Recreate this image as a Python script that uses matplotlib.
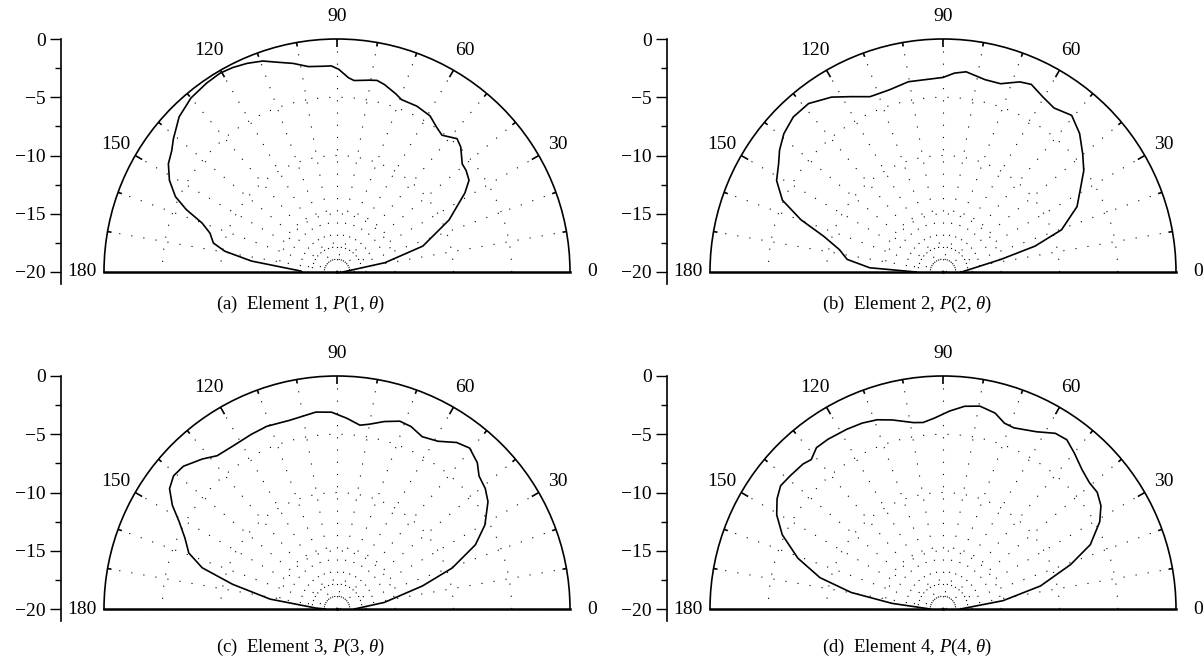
import numpy as np
import matplotlib
matplotlib.use('Agg')
import matplotlib.pyplot as plt
from matplotlib.ticker import FixedLocator, MultipleLocator

plt.rcParams['font.family'] = ['Liberation Serif', 'DejaVu Serif']
plt.rcParams['mathtext.fontset'] = 'custom'
plt.rcParams['mathtext.rm'] = 'Liberation Serif'
plt.rcParams['mathtext.it'] = 'Liberation Serif:italic'

# ---------------- data (angle in degrees, normalized gain in dB) ----------------
theta1 = [0, 11, 16.8, 24.9, 31.7, 34.8, 38.2, 40.8, 45.3, 48.0, 52.5, 55.6, 59.2, 64.3,
          69.5, 71.7, 75.8, 78.2, 80.4, 84.9, 86.6, 89.5, 91.6, 93.7, 97.9, 101.9, 105.7,
          109.4, 113.3, 117, 120.5, 124.7, 130, 135.5, 140.9, 143.7, 147.3, 151.3, 155.0,
          157.5, 160.1, 163.0, 166.8, 169.5, 172.7, 178.5, 180]
gain1 = [-19.5, -15.8, -12.3, -9.4, -7.1, -6.2, -5.9, -5.8, -4.9, -4.6, -5.2, -4.9, -4.4, -4.2,
         -4.2, -3.9, -3.4, -3.2, -3.3, -3.5, -3.3, -2.6, -2.3, -2.3, -2.2, -1.7, -1.3,
         -0.8, -0.5, -0.3, -0.2, -0.3, -0.5, -1.0, -1.9, -2.4, -2.8, -3.6, -4.7,
         -6.0, -7.7, -8.6, -9.1, -10.2, -12.6, -16.9, -17.0]

theta2 = [0, 12.3, 15.7, 19.6, 26.0, 31.7, 35.8, 40.2, 45.4, 50.6, 55.9, 60.3, 64.8, 68.0,
          73.0, 77.7, 83.4, 86.7, 90, 100.3, 106.4, 112.6, 117.7, 122.5, 128.6, 134.0,
          139.0, 143.3, 146.6, 151.2, 155.9, 159.8, 163.3, 167.8, 172.5, 176.7, 180]
gain2 = [-18.4, -14.9, -11.8, -9.2, -7.2, -6.1, -5.1, -4.3, -3.3, -2.6, -3.0, -2.7, -2.2, -2.4,
         -3.1, -3.1, -2.7, -2.9, -3.3, -3.4, -3.7, -3.7, -3.0, -2.2, -1.5, -1.5,
         -1.9, -2.5, -3.1, -3.7, -4.9, -7.0, -9.3, -10.9, -11.7, -13.7, -17.7]

theta3 = [0, 7.9, 15.1, 19.6, 24.9, 29.6, 35.4, 39.1, 43.1, 46.2, 50.5, 54.3, 59.0, 63.7,
          67.9, 71.5, 75.8, 80.1, 82.9, 87.1, 91.6, 96.1, 104.1, 111.0, 116.1, 122.7,
          128.0, 131.9, 137.1, 140.8, 144.3, 147.8, 151.0, 155.0, 159.3, 163.0, 166.7,
          171.6, 177.5, 180]
gain3 = [-18.5, -15.9, -12.4, -9.5, -6.9, -5.4, -4.1, -3.6, -3.3, -2.6, -2.1, -2.4, -3.2, -3.5,
         -3.1, -3.0, -3.4, -3.9, -4.1, -3.6, -3.1, -3.0, -3.3, -3.2, -3.3, -3.4,
         -3.3, -2.7, -2.0, -1.9, -2.3, -3.3, -4.5, -5.6, -6.4, -7.9, -10.8,
         -14.2, -18.2, -19.0]

theta4 = [0, 7.9, 13.3, 19.2, 23.6, 29.1, 33.2, 37.1, 40.8, 45.1, 49.9, 53.8, 57.4, 62.2,
          68.6, 71.7, 75.1, 79.7, 83.9, 88.1, 92.6, 96.1, 99.0, 105.0, 109.2, 113.5,
          118.2, 124.1, 128.1, 131.4, 134.0, 138.9, 142.8, 146.4, 150.5, 155.2, 160.7,
          165.7, 169.8, 173.7, 180]
gain4 = [-18.5, -14.8, -11.4, -8.4, -6.2, -4.6, -3.8, -3.4, -3.4, -3.1, -2.5, -2.0, -2.1, -2.8,
         -3.3, -3.2, -2.6, -2.3, -2.5, -3.0, -3.6, -3.9, -3.8, -3.2, -2.8, -2.6,
         -2.5, -2.4, -2.4, -2.9, -2.7, -2.6, -2.5, -2.9, -3.6, -4.8, -6.8,
         -9.1, -12.0, -15.6, -18.9]

captions = [r'(a)  Element 1, $P$(1, $\theta$)', r'(b)  Element 2, $P$(2, $\theta$)',
            r'(c)  Element 3, $P$(3, $\theta$)', r'(d)  Element 4, $P$(4, $\theta$)']
angle_ticks = [0, 30, 60, 90, 120, 150, 180]
angle_labels = ['0', '30', '60', '90', '120', '150', '180']
angle_minor = [10, 20, 40, 50, 70, 80, 100, 110, 130, 140, 160, 170]
radial_ticks = [0, -5, -10, -15, -20]
ring_levels = [-19.7, -18.5, -17.5, -15, -10, -5]

# ---------------- layout ----------------
W, H = 1204, 667
fig = plt.figure(figsize=(W / 100, H / 100), dpi=100)
R = 233
panels = [(337, 272, 304), (943, 272, 304), (337, 609, 647), (943, 609, 647)]
series = [(theta1, gain1), (theta2, gain2), (theta3, gain3), (theta4, gain4)]
dots = (0, (1, 10))
major_len = 8 / R * 20   # tick lengths on the arc, in dB (8 px / 4 px)
minor_len = 4 / R * 20

for (cx, by, capy), (th, g), cap in zip(panels, series, captions):
    # square box of side 2R centred on the half-disk; the wedge fills its width
    top = by - R / 2 - R
    ax = fig.add_axes([(cx - R) / W, (H - top - 2 * R) / H, 2 * R / W, 2 * R / H],
                      projection='polar')
    ax.set_thetamin(0)
    ax.set_thetamax(180)
    ax.set_rlim(-20, 0)
    ax.plot(np.deg2rad(th), g, color='black', lw=1.2, zorder=5)

    ax.set_xticks(np.deg2rad(angle_ticks))
    ax.set_xticklabels(angle_labels)
    ax.xaxis.set_minor_locator(FixedLocator(np.deg2rad(angle_minor)))
    ax.tick_params(axis='x', which='major', direction='in', length=8, width=1.2,
                   pad=9, labelsize=14)
    ax.tick_params(axis='x', which='minor', direction='in', length=4, width=1.2)
    ax.set_yticks(ring_levels)
    ax.set_yticklabels([])
    ax.tick_params(axis='y', length=0)
    ax.xaxis.grid(True, which='both', color='black', lw=0.8, linestyle=dots)
    ax.yaxis.grid(True, which='major', color='black', lw=0.8, linestyle=dots)
    ax.spines['polar'].set_linewidth(1.2)
    ax.spines['start'].set_linewidth(1.8)
    ax.spines['end'].set_linewidth(1.8)

    # inward tick marks on the outer arc
    for a in angle_ticks[1:-1]:
        ax.plot(np.deg2rad([a, a]), [0, -major_len], color='black', lw=1.2,
                solid_capstyle='butt', zorder=6)
    for a in angle_minor:
        ax.plot(np.deg2rad([a, a]), [0, -minor_len], color='black', lw=1.2,
                solid_capstyle='butt', zorder=6)

    # radial scale shown as a separate vertical axis on the left
    lx = cx - 276
    ext = R / 20.0
    lax = fig.add_axes([lx / W, (H - by - ext) / H, 0.0005, (R + ext) / H])
    lax.set_ylim(-21, 0)
    lax.set_xticks([])
    lax.set_yticks(radial_ticks)
    lax.yaxis.set_minor_locator(MultipleLocator(2.5))
    lax.tick_params(axis='y', which='major', direction='out', length=8, width=1,
                    labelsize=14, pad=3)
    lax.tick_params(axis='y', which='minor', direction='out', length=4, width=1)
    for s in ['top', 'right', 'bottom']:
        lax.spines[s].set_visible(False)
    lax.spines['left'].set_linewidth(1.2)
    lax.patch.set_visible(False)

    fig.text((cx - 36) / W, 1 - capy / H, cap, ha='center', va='center', fontsize=13.5)

fig.savefig('out.png', dpi=100)
